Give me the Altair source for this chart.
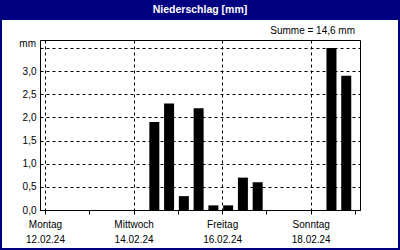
import altair as alt
import pandas as pd

# ---- data ----
times = [
    "2024-02-14T08:00:00", "2024-02-14T16:00:00",
    "2024-02-15T00:00:00", "2024-02-15T08:00:00", "2024-02-15T16:00:00",
    "2024-02-16T00:00:00", "2024-02-16T08:00:00", "2024-02-16T16:00:00",
    "2024-02-18T08:00:00", "2024-02-18T16:00:00",
]
values = [1.9, 2.3, 0.3, 2.2, 0.1, 0.1, 0.7, 0.6, 3.5, 2.9]
day_names = ["Sonntag", "Montag", "Dienstag", "Mittwoch", "Donnerstag", "Freitag", "Samstag"]
tick_days = [12, 13, 14, 15, 16, 17, 18, 19]
y_ticks = [0.0, 0.5, 1.0, 1.5, 2.0, 2.5, 3.0, 3.5]
title_text = "Niederschlag [mm]"
sum_text = "Summe = 14,6 mm"
unit_text = "mm"

NAVY = "#000080"
FONT = "Liberation Sans"

df = pd.DataFrame({"t": times, "v": values})
one = alt.Data(values=[{"k": 1}])

names_js = "[" + ",".join("'%s'" % n for n in day_names) + "]"
x_label_expr = (
    "(date(datum.value) - 12) % 2 == 0 && date(datum.value) < 19 ? "
    f"[{names_js}[day(datum.value)], timeFormat(datum.value, '%d.%m.%y')] : ''"
)

x_axis = alt.Axis(
    values=[alt.DateTime(year=2024, month=2, date=d) for d in tick_days],
    tickCount=20,
    labelExpr=x_label_expr,
    title=None,
    grid=True,
    gridDash=[3, 3],
    gridColor="black",
    gridOpacity={"condition": {"test": "(date(datum.value) - 12) % 2 == 1", "value": 0}, "value": 1},
    tickSize=4,
    tickColor="black",
    domainColor="black",
    labelPadding=5,
    labelLineHeight=15,
    labelFlush=False,
    labelOverlap=False,
    labelFont=FONT,
    labelFontSize=10,
    labelColor="black",
    labelBaseline="top",
)

y_axis = alt.Axis(
    values=y_ticks,
    tickCount=20,
    labelExpr="datum.value < 3.4 ? replace(format(datum.value, '.1f'), '.', ',') : ''",
    title=None,
    grid=True,
    gridDash=[3, 3],
    gridColor="black",
    ticks=False,
    domainColor="black",
    labelPadding=4,
    labelOverlap=False,
    labelFont=FONT,
    labelFontSize=10,
    labelColor="black",
)

bars = alt.Chart(df).mark_bar(width=10, xOffset=6, color="black").encode(
    x=alt.X("t:T", axis=x_axis,
            scale=alt.Scale(domain=[alt.DateTime(year=2024, month=2, date=12),
                                    alt.DateTime(year=2024, month=2, date=19)], nice=False)),
    y=alt.Y("v:Q", axis=y_axis, scale=alt.Scale(domain=[0, 3.675], nice=False)),
)

unit = alt.Chart(one).mark_text(
    text=unit_text, align="right", baseline="middle", dy=-4, font=FONT, fontSize=10, color="black"
).encode(x=alt.value(-4), y=alt.datum(3.5))

title_bar = alt.Chart(one).mark_rect(color=NAVY).encode(
    x=alt.value(-40), x2=alt.value(360), y=alt.value(-40), y2=alt.value(-20)
)
border = alt.Chart(one).mark_rect(fill=None, stroke=NAVY, strokeWidth=2, fillOpacity=0).encode(
    x=alt.value(-39), x2=alt.value(359), y=alt.value(-39), y2=alt.value(209)
)
title = alt.Chart(one).mark_text(
    text=title_text, align="center", baseline="middle", font=FONT, fontSize=10.5,
    fontWeight="bold", color="white"
).encode(x=alt.value(160), y=alt.value(-30))
summe = alt.Chart(one).mark_text(
    text=sum_text, align="right", baseline="middle", font=FONT, fontSize=10, color="black"
).encode(x=alt.value(315), y=alt.value(-9))

chart = alt.layer(bars, unit, title_bar, border, title, summe).properties(
    width=320, height=170,
    autosize=alt.AutoSizeParams(type="none"),
    padding={"left": 40, "top": 40, "right": 40, "bottom": 40},
    background="white",
).configure_view(stroke="black", strokeWidth=1, fill="white")

chart.save("out.html", embed_options={"renderer": "svg", "actions": False})
